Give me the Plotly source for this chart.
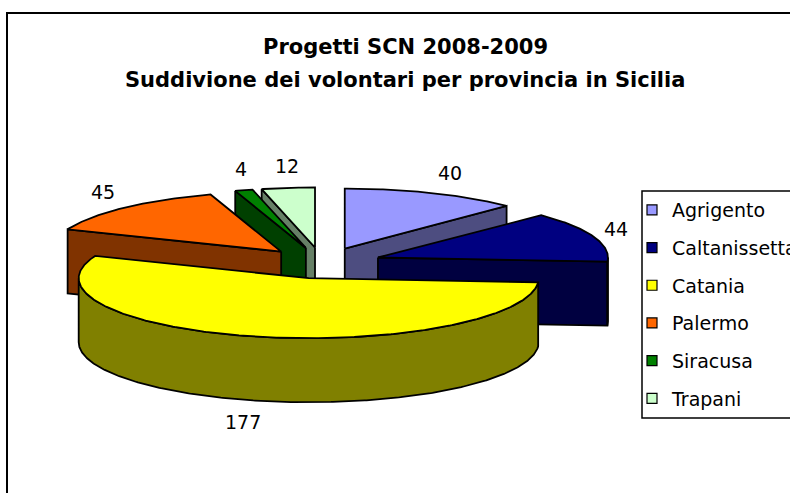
import math
import plotly.graph_objects as go

# ---------------- data ----------------
provinces = ["Agrigento", "Caltanissetta", "Catania", "Palermo", "Siracusa", "Trapani"]
volunteers = [40, 44, 177, 45, 4, 12]
title_lines = ["Progetti SCN 2008-2009", "Suddivione dei volontari per provincia in Sicilia"]

# ---------------- style ----------------
top_colors = ["#9999FF", "#000080", "#FFFF00", "#FF6600", "#008000", "#CCFFCC"]
side_colors = ["#4D4D80", "#000040", "#808000", "#803300", "#004000", "#668066"]

W, H = 790, 493
CX, CY = 322, 263          # pie centre (pixel space)
RX, RY = 230, 60           # ellipse radii of the tilted pie
DEPTH = 64                 # thickness of the 3D pie
EXPLODE = 0.26             # explosion as a fraction of the radius
FONT = "DejaVu Sans"
LINE = dict(color="black", width=1.8)

total = float(sum(volunteers))


def pt(ox, oy, th, dz=0.0):
    r = math.radians(th)
    return ox + RX * math.sin(r), oy - RY * math.cos(r) + dz


def arc(ox, oy, t0, t1, dz=0.0):
    n = max(2, int(abs(t1 - t0) / 0.5) + 1)
    return [pt(ox, oy, t0 + (t1 - t0) * k / (n - 1), dz) for k in range(n)]


def poly(pts, color):
    xs = [p[0] for p in pts] + [pts[0][0]]
    ys = [p[1] for p in pts] + [pts[0][1]]
    return go.Scatter(x=xs, y=ys, mode="lines", fill="toself", fillcolor=color,
                      line=LINE, hoverinfo="skip", showlegend=False)


# slice geometry
slices = []
cum = 0.0
for i, v in enumerate(volunteers):
    a0 = 360.0 * cum / total
    a1 = 360.0 * (cum + v) / total
    cum += v
    m = (a0 + a1) / 2.0
    mr = math.radians(m)
    ox = CX + EXPLODE * RX * math.sin(mr)
    oy = CY - EXPLODE * RY * math.cos(mr)
    slices.append(dict(i=i, a0=a0, a1=a1, m=m, ox=ox, oy=oy))

fig = go.Figure()

# painter's order: back slices first
for s in sorted(slices, key=lambda s: -math.cos(math.radians(s["m"]))):
    i, a0, a1, ox, oy = s["i"], s["a0"], s["a1"], s["ox"], s["oy"]
    # radial walls (only those facing the viewer)
    if math.sin(math.radians(a0)) < -1e-9:
        p = pt(ox, oy, a0)
        fig.add_trace(poly([(ox, oy), p, (p[0], p[1] + DEPTH), (ox, oy + DEPTH)], side_colors[i]))
    if math.sin(math.radians(a1)) > 1e-9:
        p = pt(ox, oy, a1)
        fig.add_trace(poly([(ox, oy), p, (p[0], p[1] + DEPTH), (ox, oy + DEPTH)], side_colors[i]))
    # curved outer wall, front half only
    t0, t1 = max(a0, 90.0), min(a1, 270.0)
    if t1 > t0:
        top = arc(ox, oy, t0, t1)
        bot = arc(ox, oy, t0, t1, DEPTH)[::-1]
        fig.add_trace(poly(top + bot, side_colors[i]))
    # top face
    fig.add_trace(poly([(ox, oy)] + arc(ox, oy, a0, a1), top_colors[i]))

# value labels
for s in slices:
    mr = math.radians(s["m"])
    sn, cs = math.sin(mr), math.cos(mr)
    lx = s["ox"] + 240 * sn
    ly = s["oy"] - (RY + 22) * cs + (DEPTH if cs < 0 else 0)
    if cs < 0:
        lx -= 12  # front labels sit a little further left
    anchor = "left" if sn > 0.3 else ("right" if sn < -0.3 else "center")
    fig.add_annotation(x=lx, y=ly, text=str(volunteers[s["i"]]), showarrow=False,
                       xanchor=anchor, yanchor="middle",
                       font=dict(family=FONT, size=19, color="black"))

# legend entries
for i, name in enumerate(provinces):
    fig.add_trace(go.Scatter(x=[None], y=[None], mode="markers", name=name,
                             legendgroup=name,
                             marker=dict(symbol="square", size=10, color=top_colors[i],
                                         line=dict(color="black", width=1.2))))

# title lines
for k, line in enumerate(title_lines):
    fig.add_annotation(x=405, y=47 + 33 * k, text="<b>" + line + "</b>", showarrow=False,
                       xanchor="center", yanchor="middle",
                       font=dict(family=FONT, size=21, color="black"))

# chart frame and legend box
fig.add_shape(type="rect", x0=7, y0=13, x1=W + 20, y1=H + 20,
              line=dict(color="black", width=2), layer="below")
fig.add_shape(type="rect", x0=642, y0=191, x1=W + 20, y1=418,
              line=dict(color="black", width=1.5), layer="below")

fig.update_layout(
    width=W, height=H,
    margin=dict(l=0, r=0, t=0, b=0, autoexpand=False),
    paper_bgcolor="white", plot_bgcolor="white",
    xaxis=dict(range=[0, W], visible=False, fixedrange=True),
    yaxis=dict(range=[H, 0], visible=False, fixedrange=True),
    showlegend=True,
    legend=dict(x=632 / W, y=1 - 191 / H, xanchor="left", yanchor="top",
                bgcolor="rgba(0,0,0,0)", borderwidth=0, tracegroupgap=10,
                font=dict(family=FONT, size=19, color="black")),
)

fig.write_html("out.html", config={"displayModeBar": False},
               post_script="document.body.style.margin='0';document.body.style.overflow='hidden';")
